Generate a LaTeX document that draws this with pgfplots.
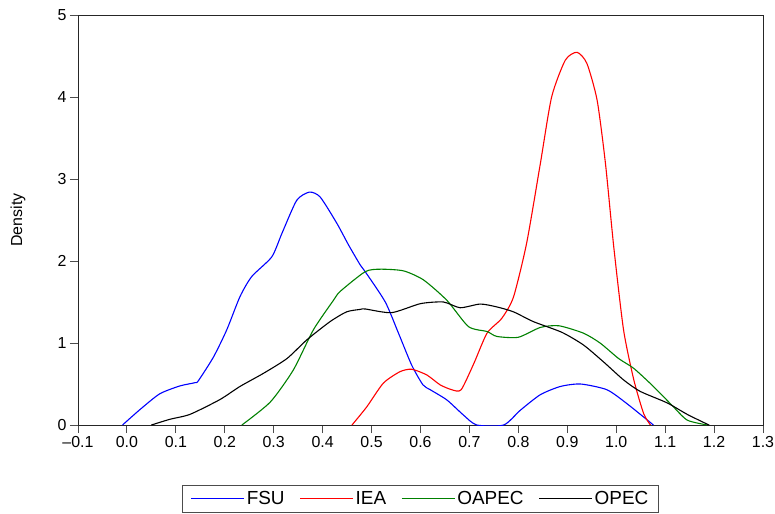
\documentclass[border=0pt]{standalone}
\usepackage{pgfplots}
\pgfplotsset{compat=1.18}
\usepackage{fontspec}
\setmainfont{Liberation Sans}
\definecolor{evblue}{RGB}{0,0,255}
\definecolor{evred}{RGB}{255,0,0}
\definecolor{evgreen}{RGB}{0,128,0}
\begin{document}
\begin{tikzpicture}
\begin{axis}[
  at={(0,0)}, anchor=south west,
  scale only axis,
  width=685bp, height=410bp,
  xmin=-0.1, xmax=1.3, ymin=0, ymax=5,
  axis line style={line width=0.9bp, black!85},
  xtick={-0.1,0,0.1,0.2,0.3,0.4,0.5,0.6,0.7,0.8,0.9,1.0,1.1,1.2,1.3},
  xticklabels={–0.1,0.0,0.1,0.2,0.3,0.4,0.5,0.6,0.7,0.8,0.9,1.0,1.1,1.2,1.3},
  ytick={0,1,2,3,4,5},
  yticklabels={0,1,2,3,4,5},
  tick align=outside,
  xtick pos=bottom, ytick pos=left,
  major tick length=8bp,
  tick style={line width=0.9bp, black!70},
  ticklabel style={font=\fontsize{16}{18}\selectfont},
  ylabel={Density},
  every axis y label/.style={at={(axis description cs:0,0.5)}, xshift=-60bp, rotate=90, anchor=center,
    font=\fontsize{16}{18}\selectfont},
  clip=true,
  legend columns=4,
  legend style={at={(0.5,-0.146)}, anchor=north, draw=black!70, line width=0.9bp,
    font=\fontsize{19}{21}\selectfont, inner xsep=8bp, inner ysep=4bp,
    /tikz/every even column/.append style={column sep=13bp}},
  legend image code/.code={\draw[#1, line width=1.1bp] (0bp,0bp) -- (47bp,0bp);\path (0bp,0bp) -- (53bp,0bp);},
  every axis plot/.append style={line width=1.1bp, smooth, tension=0.4},
]
% FSU
\addplot[evblue] coordinates {
(-0.009,0) (0.027,0.19) (0.067,0.38) (0.108,0.476) (0.139,0.516) (0.146,0.54)
(0.177,0.83) (0.204,1.16) (0.231,1.565) (0.255,1.81) (0.296,2.05) (0.317,2.34)
(0.347,2.74) (0.373,2.84) (0.395,2.78) (0.429,2.46) (0.453,2.195) (0.477,1.95)
(0.487,1.87) (0.528,1.50) (0.555,1.12) (0.582,0.73) (0.605,0.49) (0.62,0.43)
(0.654,0.305) (0.688,0.12) (0.715,0) (0.77,0) (0.804,0.18) (0.845,0.37)
(0.886,0.47) (0.927,0.50) (0.981,0.43) (1.022,0.26) (1.076,0)
};
\addlegendentry{FSU}
% IEA
\addplot[evred] coordinates {
(0.46,0) (0.49,0.22) (0.524,0.51) (0.558,0.65) (0.582,0.68) (0.613,0.61)
(0.64,0.49) (0.664,0.43) (0.683,0.43) (0.709,0.75) (0.736,1.12) (0.766,1.30)
(0.79,1.56) (0.817,2.22) (0.845,3.19) (0.868,4.0) (0.896,4.45)
(0.92,4.545) (0.94,4.41) (0.961,3.96) (0.978,3.19) (0.995,2.17) (1.015,1.16)
(1.036,0.55) (1.056,0.14) (1.07,0)
};
\addlegendentry{IEA}
% OAPEC
\addplot[evgreen] coordinates {
(0.235,0) (0.293,0.28) (0.34,0.67) (0.381,1.16) (0.422,1.52) (0.436,1.63)
(0.487,1.87) (0.518,1.90) (0.565,1.88) (0.606,1.77) (0.654,1.52) (0.698,1.20)
(0.736,1.14) (0.756,1.08) (0.80,1.07) (0.845,1.19) (0.883,1.21) (0.933,1.12)
(0.967,1.00) (1.005,0.81) (1.036,0.69) (1.076,0.47) (1.114,0.24) (1.145,0.06)
(1.186,0)
};
\addlegendentry{OAPEC}
% OPEC
\addplot[black] coordinates {
(0.05,0) (0.088,0.07) (0.129,0.13) (0.19,0.31) (0.231,0.47) (0.279,0.63)
(0.327,0.81) (0.368,1.04) (0.415,1.26) (0.449,1.38) (0.477,1.41) (0.487,1.415)
(0.541,1.37) (0.60,1.48) (0.647,1.50) (0.681,1.43) (0.722,1.475) (0.756,1.44)
(0.79,1.38) (0.831,1.26) (0.889,1.13) (0.933,0.976) (0.974,0.77) (1.015,0.55)
(1.049,0.41) (1.104,0.27) (1.145,0.13) (1.186,0.01) (1.19,0)
};
\addlegendentry{OPEC}
\end{axis}
\pgfresetboundingbox
\path (-78bp,-89bp) rectangle (697bp,425bp);
\end{tikzpicture}
\end{document}
